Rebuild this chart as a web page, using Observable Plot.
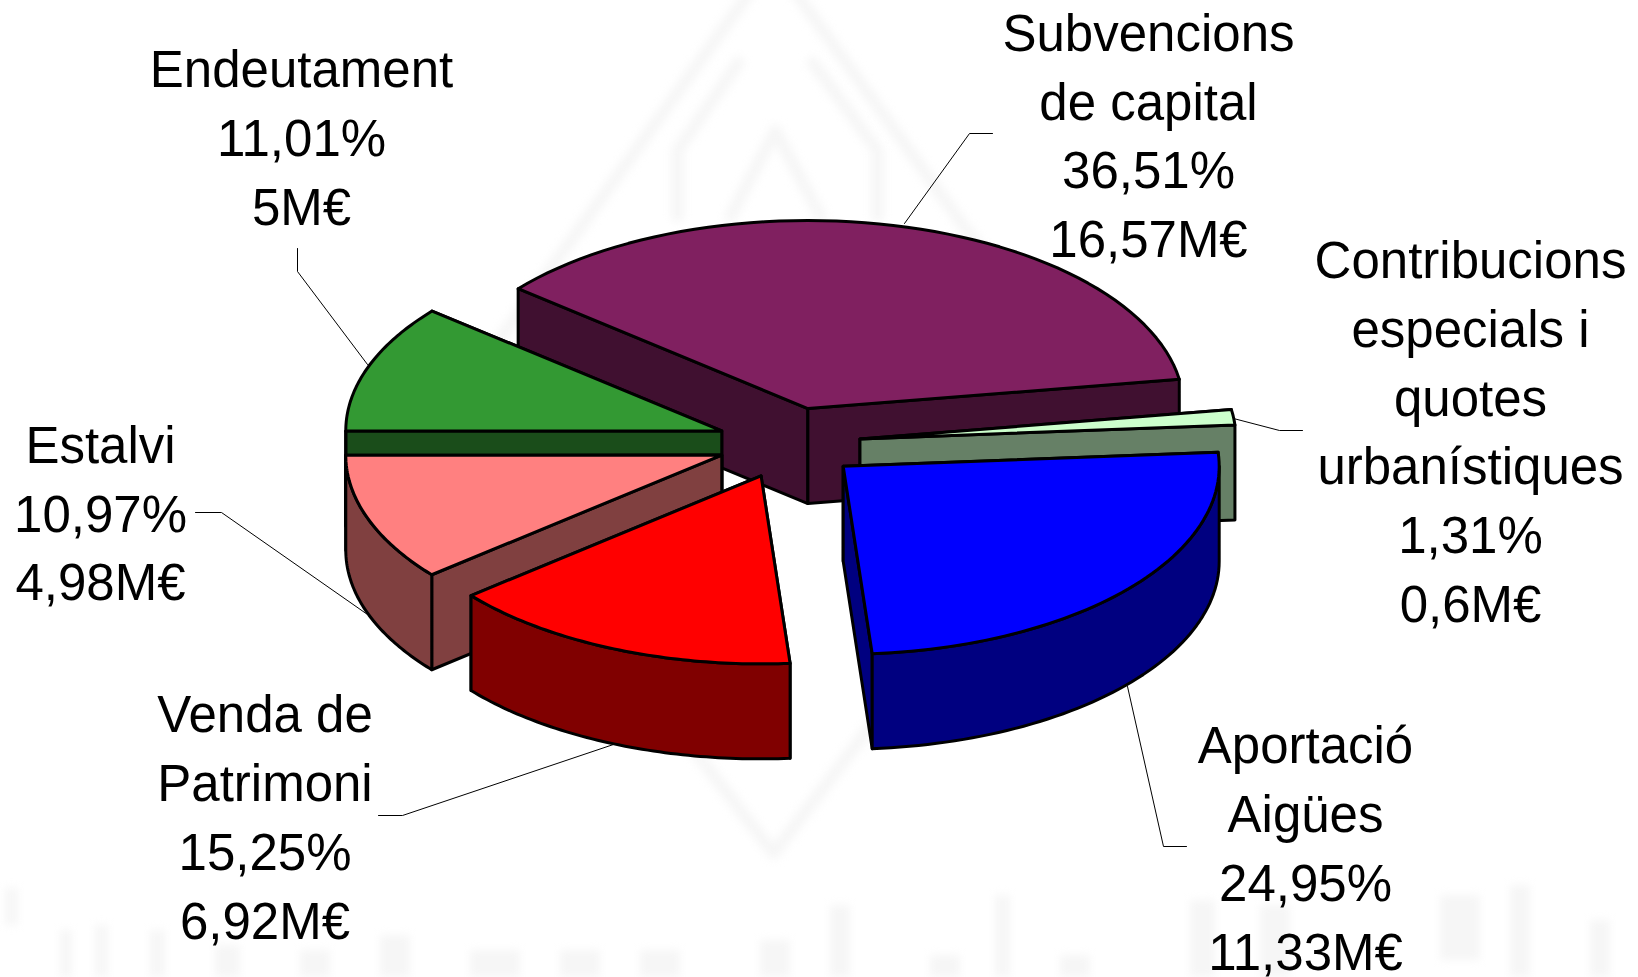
<!DOCTYPE html>
<html>
<head>
<meta charset="utf-8">
<script src="https://cdn.jsdelivr.net/npm/d3@7"></script>
<script src="https://cdn.jsdelivr.net/npm/@observablehq/plot@0.6"></script>
<style>html,body{margin:0;padding:0;background:#fff}svg{display:block}.wm{filter:blur(4px)}</style>
</head>
<body>
<div id="chart"></div>
<script>
// Chart data, in drawing order round the pie (clockwise from the first slice)
const categories = ["Subvencions de capital", "Contribucions especials i quotes urbanístiques", "Aportació Aigües", "Venda de Patrimoni", "Estalvi", "Endeutament"];
const percents = [36.51, 1.31, 24.95, 15.25, 10.97, 11.01];
const percentLabels = ["36,51%", "1,31%", "24,95%", "15,25%", "10,97%", "11,01%"];
const amountLabels = ["16,57M€", "0,6M€", "11,33M€", "6,92M€", "4,98M€", "5M€"];
const nameLines = [["Subvencions", "de capital"], ["Contribucions", "especials i", "quotes", "urbanístiques"], ["Aportació", "Aigües"], ["Venda de", "Patrimoni"], ["Estalvi"], ["Endeutament"]];

// Styles
const topColors = ["#802060", "#CCFFCC", "#0000FF", "#FF0000", "#FF8080", "#339933"];
const sideColors = ["#401030", "#668066", "#000080", "#800000", "#804040", "#1A4D1A"];
const paintOrder = [0, 1, 5, 4, 2, 3];

// Layout of the pie and its labels
const W = 1638, H = 977;
const C = {x: 788.5, y: 442.5, rx: 376, ry: 188, depth: 95, explode: 0.19, start: -50.4};
const labelX = [1148, 1470, 1305, 264.5, 100, 301];
const labelY = [131.5, 427.5, 844, 813, 509, 133.5];
const leaders = [
  [[904,223],[969,133],[992,133]],
  [[1233,418],[1279,430],[1302,430]],
  [[1127,686],[1163,846],[1186,846]],
  [[613,744],[402,815],[378,815]],
  [[367,614],[221,512],[195,512]],
  [[367,364],[297,271],[297,248]]
];
const watermark = [
  [[772,-40],[441,420],[773,853],[1103,420],[772,-40]],
  [[677,216],[677,150],[738,62]],
  [[877,216],[877,150],[812,62]],
  [[730,216],[775,130],[820,216]]
];
const wmBars = [[5,18,888,925],[60,72,930,977],[95,108,925,977],[150,165,930,977],[215,240,945,977],[300,330,950,977],[380,410,935,977],[470,520,950,977],[560,600,950,977],[640,680,950,977],[760,790,940,977],[830,850,905,977],[930,960,955,977],[995,1010,895,977],[1060,1090,955,977],[1190,1215,900,977],[1260,1290,905,977],[1440,1480,895,960],[1510,1530,885,977],[1590,1610,920,977]];

const rad = d => d * Math.PI / 180;
const pt = (o, a, dz = 0) => ({x: o.x + C.rx * Math.sin(rad(a)), y: o.y - C.ry * Math.cos(rad(a)) + dz});
const arc = (o, a0, a1, dz = 0) => d3.range(0, 61).map(i => pt(o, a0 + (a1 - a0) * i / 60, dz));

let acc = C.start;
const slices = percents.map((p, i) => {
  const a0 = acc, a1 = acc + p * 3.6; acc = a1;
  const mid = (a0 + a1) / 2;
  const apex = {x: C.x + C.explode * C.rx * Math.sin(rad(mid)), y: C.y - C.explode * C.ry * Math.cos(rad(mid))};
  return {i, a0, a1, apex};
});

const poly = (pts, fill) => Plot.line(pts, {x: "x", y: "y", fill, stroke: "#000", strokeWidth: 3, strokeLinejoin: "round", curve: "linear-closed"});
const wall = (s, a) => { const p = pt(s.apex, a); return [s.apex, p, {x: p.x, y: p.y + C.depth}, {x: s.apex.x, y: s.apex.y + C.depth}]; };

const faces = paintOrder.flatMap(i => {
  const s = slices[i];
  const out = [];
  const walls = [s.a0, s.a1].sort((a, b) => pt(s.apex, a).y - pt(s.apex, b).y);
  walls.forEach(a => out.push(poly(wall(s, a), sideColors[i])));
  const lo = Math.max(s.a0, 90), hi = Math.min(s.a1, 270);
  if (lo < hi) out.push(poly([...arc(s.apex, lo, hi), ...arc(s.apex, hi, lo, C.depth)], sideColors[i]));
  out.push(poly([s.apex, ...arc(s.apex, s.a0, s.a1)], topColors[i]));
  return out;
});

const labels = categories.map((c, i) => ({
  x: labelX[i], y: labelY[i],
  text: [...nameLines[i], percentLabels[i], amountLabels[i]].join("\n")
}));

const chart = Plot.plot({
  width: W, height: H, margin: 0,
  style: {background: "#fff", overflow: "hidden"},
  x: {axis: null, domain: [0, W], range: [0, W]},
  y: {axis: null, domain: [0, H], range: [0, H]},
  marks: [
    Plot.rect(wmBars, {x1: d => d[0], x2: d => d[1], y1: d => d[2], y2: d => d[3], fill: "#f6f6f6", className: "wm"}),
    ...watermark.map(w => Plot.line(w, {x: d => d[0], y: d => d[1], stroke: "#f6f6f6", strokeWidth: 12, className: "wm"})),
    ...leaders.map(l => Plot.line(l, {x: d => d[0], y: d => d[1], stroke: "#000", strokeWidth: 1})),
    ...faces,
    Plot.text(labels, {x: "x", y: "y", text: "text", fontFamily: "Liberation Sans", fontSize: 51, lineHeight: 1.35, textAnchor: "middle", lineAnchor: "middle", fill: "#000"})
  ]
});
document.getElementById("chart").append(chart);
</script>
</body>
</html>
